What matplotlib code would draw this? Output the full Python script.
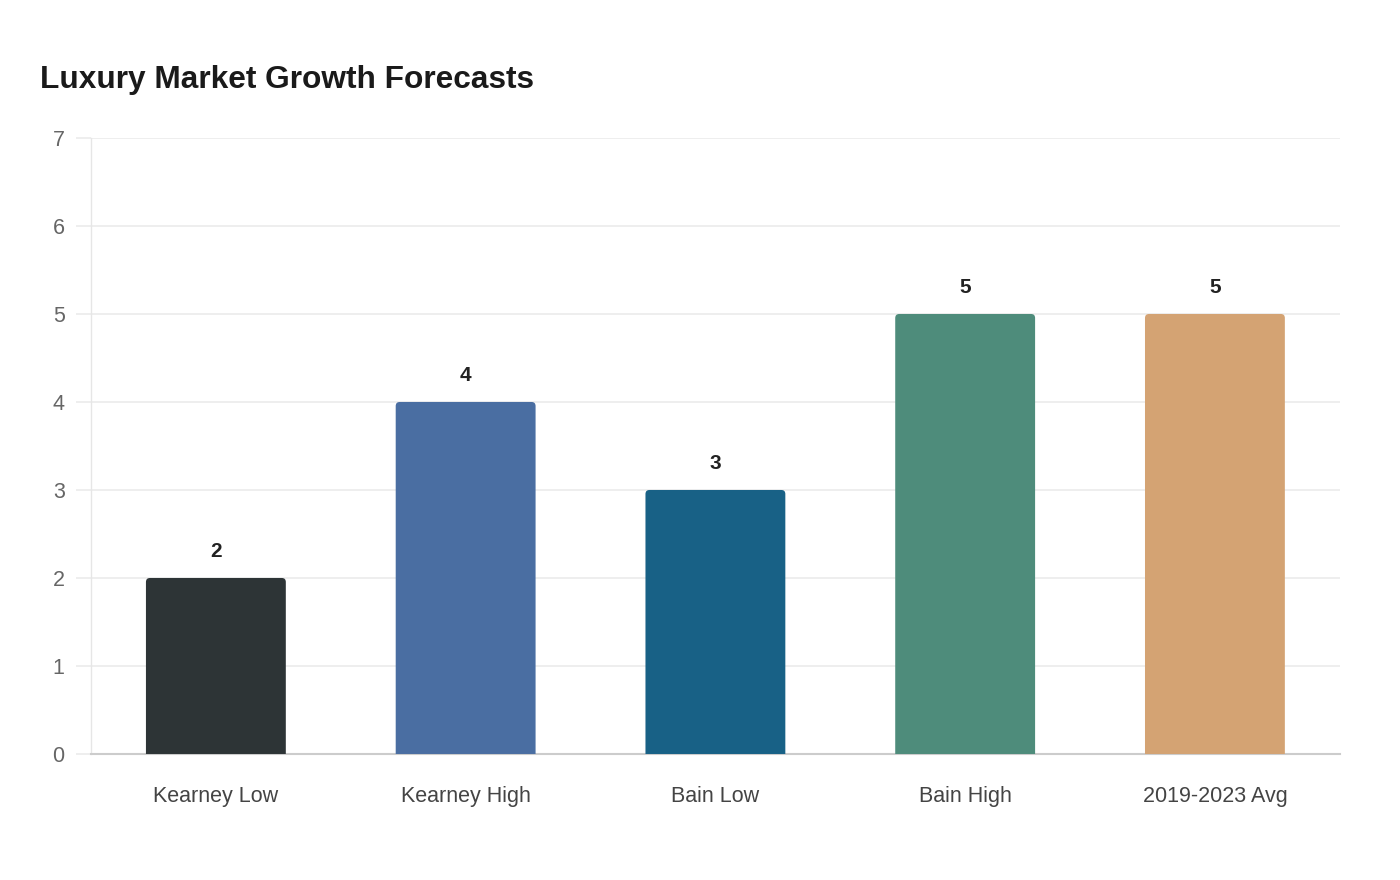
import matplotlib
matplotlib.use("Agg")
import matplotlib.pyplot as plt
from matplotlib.patches import PathPatch
from matplotlib.path import Path

categories = ["Kearney Low", "Kearney High", "Bain Low", "Bain High", "2019-2023 Avg"]
values = [2, 4, 3, 5, 5]
colors = ["#2d3436", "#4a6ea2", "#186186", "#4e8c7b", "#d4a373"]
yticks = [0, 1, 2, 3, 4, 5, 6, 7]

plt.rcParams['font.family'] = ['Liberation Sans', 'DejaVu Sans']

fig = plt.figure(figsize=(14, 8.8), dpi=100)
ax = fig.add_axes([0.065, 0.1432, 0.892, 0.7])

x = list(range(len(categories)))
bw = 0.56
bars = ax.bar(x, values, width=bw, color=colors, zorder=3)

ax.set_xlim(-0.5, len(categories) - 0.5)
ax.set_ylim(0, 7)

# rounded top corners (radius ~4px converted to data units)
rx = 4 / 250
ry = 4 / 88
for b, c in zip(bars, colors):
    b.set_visible(False)
    x0, y0 = b.get_x(), b.get_y()
    x1, y1 = x0 + b.get_width(), y0 + b.get_height()
    verts = [(x0, y0), (x1, y0), (x1, y1 - ry), (x1, y1), (x1 - rx, y1),
             (x0 + rx, y1), (x0, y1), (x0, y1 - ry), (x0, y0)]
    codes = [Path.MOVETO, Path.LINETO, Path.LINETO, Path.CURVE3, Path.CURVE3,
             Path.LINETO, Path.CURVE3, Path.CURVE3, Path.CLOSEPOLY]
    ax.add_patch(PathPatch(Path(verts, codes), facecolor=c, edgecolor="none", zorder=3))
    ax.annotate(f"{b.get_height():g}", ((x0 + x1) / 2, y1),
                xytext=(0, 19), textcoords="offset points", ha="center", va="center",
                fontsize=15, fontweight="bold", color="#222222")

ax.set_yticks(yticks)
ax.set_yticklabels([str(t) for t in yticks])
ax.set_xticks(x)
ax.set_xticklabels(categories)

ax.grid(axis="y", color="#ebebeb", linewidth=1.2, zorder=0)
ax.set_axisbelow(True)
for s in ["top", "right"]:
    ax.spines[s].set_visible(False)
ax.spines["left"].set_color("#e6e6e6")
ax.spines["left"].set_linewidth(1.0)
ax.spines["bottom"].set_color("#cccccc")
ax.spines["bottom"].set_linewidth(1.5)

ax.tick_params(axis="y", length=11, color="#ebebeb", width=1.2, labelsize=15.5,
               labelcolor="#666666", pad=8)
ax.tick_params(axis="x", length=0, labelsize=15.5, labelcolor="#444444", pad=23)

fig.text(40 / 1400, 1 - 80 / 880, "Luxury Market Growth Forecasts", fontsize=22.8,
         fontweight="bold", color="#1a1a1a", ha="left", va="center")

fig.savefig("out.png", dpi=100, facecolor="white")
